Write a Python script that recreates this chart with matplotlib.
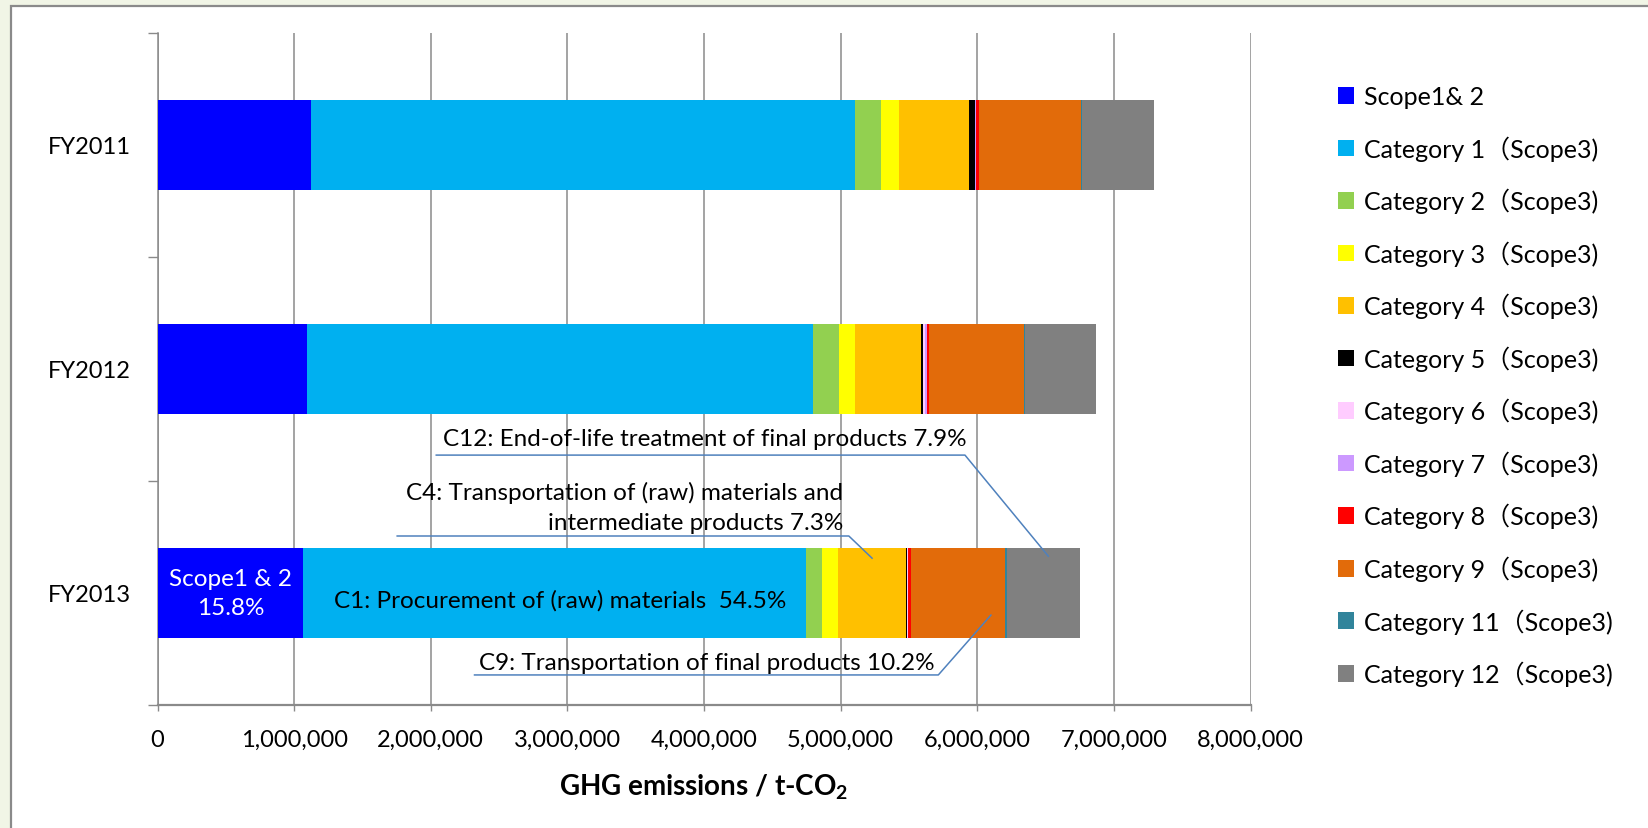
import numpy as np
import matplotlib
matplotlib.use('Agg')
import matplotlib.pyplot as plt
from matplotlib.patches import Rectangle
from matplotlib.ticker import FuncFormatter, FixedLocator

plt.rcParams['font.family'] = ['Lato', 'Noto Sans CJK JP', 'DejaVu Sans']
plt.rcParams['mathtext.fontset'] = 'custom'
plt.rcParams['mathtext.rm'] = 'Lato'
plt.rcParams['mathtext.bf'] = 'Lato:bold'

# datos (t-CO2)
years = ['FY2011', 'FY2012', 'FY2013']

names = ['Scope1& 2', 'Category 1（Scope3)', 'Category 2（Scope3)', 'Category 3（Scope3)',
         'Category 4（Scope3)', 'Category 5（Scope3)', 'Category 6（Scope3)', 'Category 7（Scope3)',
         'Category 8（Scope3)', 'Category 9（Scope3)', 'Category 11（Scope3)', 'Category 12（Scope3)']
colors = ['#0000FF', '#00B0F0', '#92D050', '#FFFF00', '#FFC000', '#000000',
          '#FFCCFF', '#CC99FF', '#FF0000', '#E26B0A', '#31849B', '#808080']

scope12 = [1123000, 1094000, 1067000]
cat1    = [3982000, 3704000, 3681000]
cat2    = [191000, 190000, 117000]
cat3    = [132000, 117000, 117000]
cat4    = [512000, 483000, 495000]
cat5    = [44000, 15000, 12000]
cat6    = [3000, 12000, 3000]
cat7    = [4000, 15000, 4000]
cat8    = [22000, 15000, 20000]
cat9    = [744000, 700000, 688000]
cat11   = [10000, 5000, 12000]
cat12   = [530000, 522000, 533000]

series = [scope12, cat1, cat2, cat3, cat4, cat5, cat6, cat7, cat8, cat9, cat11, cat12]

plt.close('all')
fig = plt.figure(figsize=(16.48, 8.29), dpi=100)
fig.patch.set_facecolor('#f1f5e6')

# marco blanco con borde gris
marco = Rectangle((11/1648, -0.1), 2.0, (829-7)/829 + 0.1, transform=fig.transFigure,
                  facecolor='white', edgecolor='#8a8a8a', lw=1.6, zorder=-5)
fig.add_artist(marco)

ax = fig.add_axes([0.0956, 0.1484, 0.6632, 0.811])
ax.set_facecolor('none')

y = np.arange(len(years))
left = np.zeros(len(years))
barras = []
for vals, nm, c in zip(series, names, colors):
    b = ax.barh(y, vals, left=left, height=0.4, color=c, label=nm, zorder=3)
    barras.append(b)
    left = left + np.array(vals)

ax.set_xlim(0, 8000000)
ax.set_ylim(2.5, -0.5)

ax.xaxis.set_major_locator(FixedLocator(np.arange(0, 8000001, 1000000)))
ax.xaxis.set_major_formatter(FuncFormatter(lambda v, p: '{:,.0f}'.format(v)))
ax.tick_params(axis='x', direction='out', length=4.5, width=1, color='#8a8a8a',
               labelsize=17, pad=13, labelcolor='black')
ax.xaxis.grid(True, color='#8a8a8a', lw=1.1, zorder=0)

ax.set_yticks(y)
ax.set_yticklabels(years, fontsize=17)
ax.yaxis.set_minor_locator(FixedLocator([-0.5, 0.5, 1.5, 2.5]))
ax.tick_params(axis='y', which='major', length=0, pad=19)
ax.tick_params(axis='y', which='minor', direction='out', length=7, width=1, color='#8a8a8a')

for s in ['top', 'right']:
    ax.spines[s].set_visible(False)
ax.spines['left'].set_color('#8a8a8a')
ax.spines['left'].set_linewidth(1.1)
ax.spines['bottom'].set_color('#8a8a8a')
ax.spines['bottom'].set_linewidth(1.6)

fig.text(0.4272, 0.050, r'GHG emissions / t-CO$_\mathbf{2}$', ha='center', va='center',
         fontsize=20, fontweight='bold')

# leyenda
ax.legend(handles=barras, loc='upper left', bbox_to_anchor=(0.812, 0.896),
          bbox_transform=fig.transFigure, frameon=False, fontsize=18,
          handlelength=0.65, handleheight=0.65, handletextpad=0.4,
          labelspacing=1.085, borderpad=0, borderaxespad=0)

# etiquetas FY2013
lc = '#4f81bd'
fs = 17.5
ax.text(533000, 2.0, 'Scope1 & 2\n15.8%', color='white', ha='center', va='center',
        fontsize=fs, linespacing=1.45, zorder=5)
ax.text(2950000, 2.03, 'C1: Procurement of (raw) materials  54.5%', ha='center', va='center',
        fontsize=fs, zorder=5)

ax.text(5020000, 1.615, 'C4: Transportation of (raw) materials and\nintermediate products 7.3%',
        ha='right', va='center', fontsize=fs, linespacing=1.55, zorder=5)
ax.plot([1754000, 5060000, 5230000], [1.746, 1.746, 1.845], color=lc, lw=1.1, zorder=6, clip_on=False)

ax.text(5920000, 1.31, 'C12: End-of-life treatment of final products 7.9%', ha='right', va='center',
        fontsize=fs, zorder=5)
ax.plot([2040000, 5910000, 6520000], [1.385, 1.385, 1.836], color=lc, lw=1.1, zorder=6, clip_on=False)

ax.text(5690000, 2.31, 'C9: Transportation of final products 10.2%', ha='right', va='center',
        fontsize=fs, zorder=5)
ax.plot([2320000, 5715000, 6100000], [2.366, 2.366, 2.099], color=lc, lw=1.1, zorder=6, clip_on=False)

plt.savefig('out.png', dpi=100)
